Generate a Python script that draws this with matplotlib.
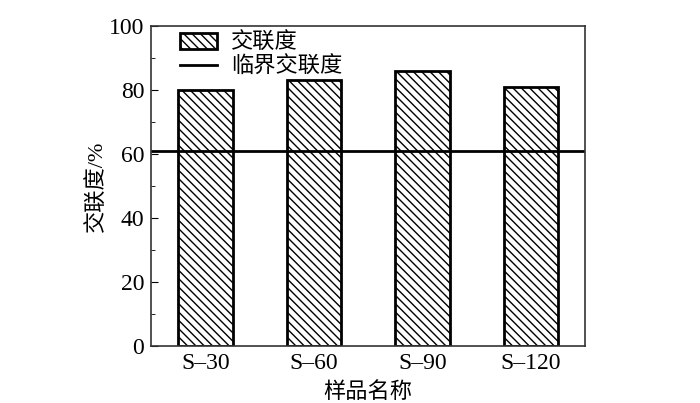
import numpy as np
import matplotlib.pyplot as plt
from matplotlib.ticker import MultipleLocator

plt.rcParams['font.family'] = ['Liberation Serif', 'Noto Sans CJK SC']
plt.rcParams['hatch.linewidth'] = 1.0
plt.rcParams['axes.unicode_minus'] = False

# données
samples = ['S\u201330', 'S\u201360', 'S\u201390', 'S\u2013120']
crosslink = [80, 83, 86, 81]
critical = 61

fig = plt.figure(figsize=(7, 4.03), dpi=100)
ax = fig.add_axes([0.216, 0.1414, 0.62, 0.7941])

x = np.arange(len(samples))
bars = ax.bar(x, crosslink, width=0.5, color='white', edgecolor='black',
              linewidth=2, hatch='\\\\\\\\')
line = ax.axhline(critical, color='black', linewidth=2)

ax.set_xlim(-0.5, 3.5)
ax.set_ylim(0, 100)
ax.set_xticks(x)
ax.set_xticklabels(samples)
ax.yaxis.set_major_locator(MultipleLocator(20))
ax.yaxis.set_minor_locator(MultipleLocator(10))
ax.tick_params(axis='y', which='both', direction='in', labelsize=17, pad=5)
ax.tick_params(axis='y', which='major', length=5)
ax.tick_params(axis='y', which='minor', length=3)
ax.tick_params(axis='x', length=0, labelsize=17, pad=5)
for s in ax.spines.values():
    s.set_linewidth(1.2)
    s.set_color('#333333')

ax.set_xlabel('样品名称', fontsize=16, labelpad=6)
ax.set_ylabel('交联度/%', fontsize=16, labelpad=1)

ax.legend([bars, line], ['交联度', '临界交联度'], loc='upper left',
          bbox_to_anchor=(0.05, 1.0), frameon=False, fontsize=16,
          handlelength=1.7, handleheight=0.7, borderaxespad=0.1,
          borderpad=0.2, labelspacing=0.15, handletextpad=0.6)

plt.savefig('out.png', dpi=100)
